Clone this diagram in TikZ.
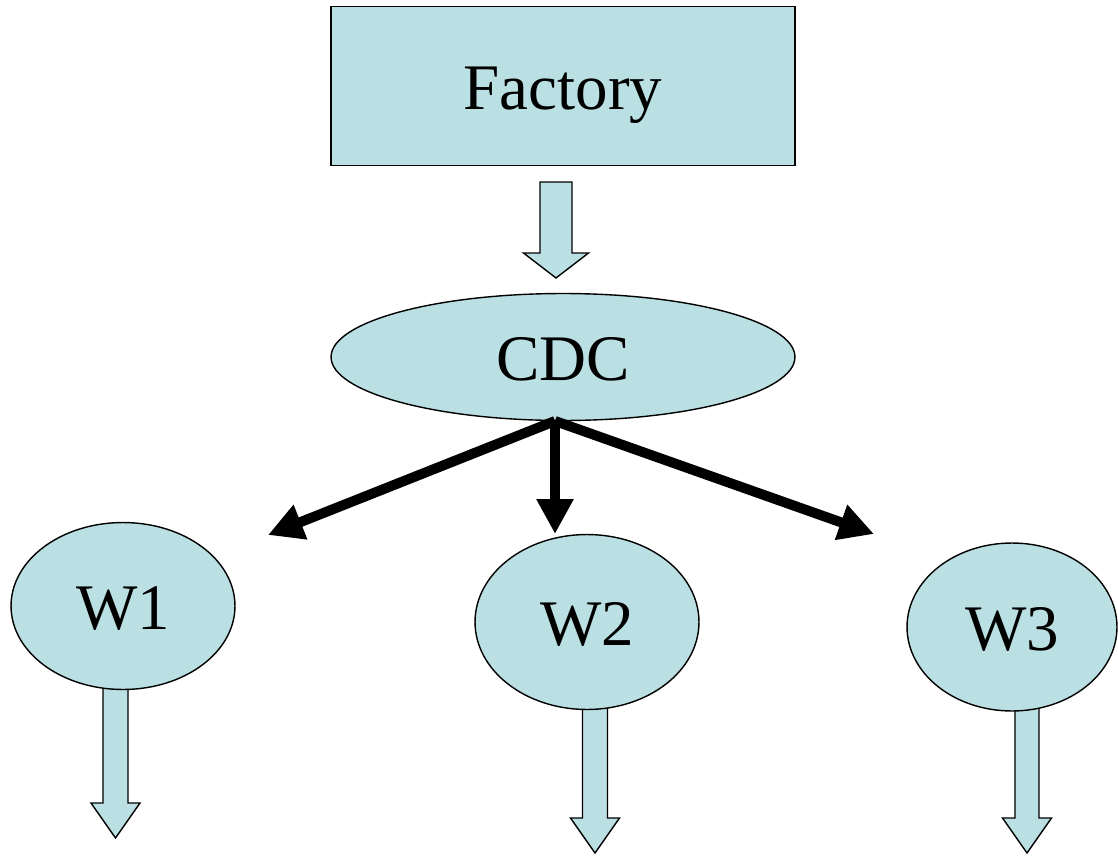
\documentclass[tikz,border=0pt]{standalone}
\usepackage{fontspec}
\setmainfont{Liberation Serif}
\usepackage{tikz}
\usetikzlibrary{shapes.geometric,arrows.meta,calc}
\definecolor{boxfill}{HTML}{BBE0E3}

% block arrow pointing down: from (#1) to tip (#2), half shaft, half head, head length
\newcommand{\blockarrow}[5]{%
  \draw[block] ($(#1)+(-#3,0)$) -- ($(#2)+(-#3,-#5)$) -- ($(#2)+(-#4,-#5)$) -- (#2)
    -- ($(#2)+(#4,-#5)$) -- ($(#2)+(#3,-#5)$) -- ($(#1)+(#3,0)$) -- cycle;}

\begin{document}
\begin{tikzpicture}[
            x = 0.02cm, y = -0.02cm, % one unit = one pixel of the layout
            >= {Triangle[length=0.7cm,width=0.7cm]}, % arrow head style
            line width = 0.8pt
        ]

        \tikzstyle{every node}=[
            font = \fontsize{37}{44}\selectfont,
            draw = black,
            fill = boxfill,
            inner sep = 0pt,
            text height = 27pt, % caps sit on the middle line
            text depth = 0pt
        ]
        \tikzstyle{block}=[draw = black, fill = boxfill, line width = 0.8pt]
        \tikzstyle{flow}=[->, line width = 0.2cm]

\useasboundingbox (0,0) rectangle (1118,855);

% block arrows to and from the nodes (drawn first, nodes go on top)
\coordinate (fout) at (556,182);
\coordinate (fin) at (556,278);
\coordinate (w1out) at (115.5,680);
\coordinate (w1end) at (115.5,838);
\coordinate (w2out) at (595,700);
\coordinate (w2end) at (595,853);
\coordinate (w3out) at (1027,700);
\coordinate (w3end) at (1027,853);
\blockarrow{fout}{fin}{16}{32.5}{25}
\blockarrow{w1out}{w1end}{12.5}{24.5}{35}
\blockarrow{w2out}{w2end}{12.5}{24.5}{35}
\blockarrow{w3out}{w3end}{12}{24.5}{35}

\node[shape=rectangle, minimum width=9.28cm, minimum height=3.18cm] (F) at (563,86) {Factory};
\node[shape=ellipse, minimum width=9.28cm, minimum height=2.54cm] (CDC) at (563,357) {CDC};
\node[shape=ellipse, minimum width=4.48cm, minimum height=3.34cm] (W1) at (123,606) {W1};
\node[shape=ellipse, minimum width=4.48cm, minimum height=3.5cm] (W2) at (587,622) {W2};
\node[shape=ellipse, minimum width=4.2cm, minimum height=3.36cm] (W3) at (1012,627) {W3};

% spokes out of the CDC
\coordinate (hub) at (555,421);
\coordinate (t1) at (268,535);
\coordinate (t2) at (555,534);
\coordinate (t3) at (874,534);
 \draw [flow] (hub) -- (t1);
 \draw [flow] (hub) -- (t2);
 \draw [flow] (hub) -- (t3);
\end{tikzpicture}
\end{document}
